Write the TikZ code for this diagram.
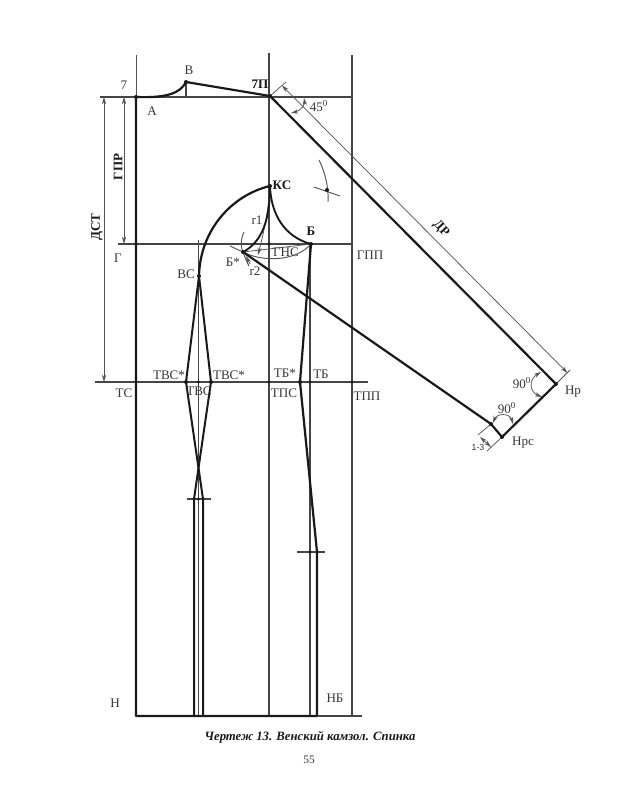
\documentclass[tikz,border=0pt]{standalone}
\usepackage{fontspec}
\setmainfont{Liberation Serif}
\newfontfamily\sansf{Liberation Sans}
\usetikzlibrary{arrows.meta}
\definecolor{ink}{gray}{0.1}
\definecolor{lab}{gray}{0.22}
\definecolor{midg}{gray}{0.27}
\definecolor{thing}{gray}{0.33}
\tikzset{
  thick line/.style={draw=ink,line width=1.65pt,line cap=round,line join=round},
  mid line/.style={draw=midg,line width=0.8pt},
  thin line/.style={draw=thing,line width=0.55pt},
  dim/.style={thin line,{Stealth[length=5.5pt,width=3.2pt]}-{Stealth[length=5.5pt,width=3.2pt]}},
  dimend/.style={thin line,-{Stealth[length=5.5pt,width=3.2pt]}},
  lbl/.style={font=\fontsize{9.8}{11}\selectfont,text=lab,inner sep=0pt},
  blbl/.style={font=\fontsize{9.8}{11}\selectfont\bfseries,text=ink,inner sep=0pt},
  dot/.style={circle,fill=ink,inner sep=0pt,minimum size=3pt},
}
\begin{document}
\begin{tikzpicture}[x=0.75pt,y=-0.75pt]
\useasboundingbox[fill=white] (0,0) rectangle (618,800);
% key points
\coordinate (A) at (136,97);
\coordinate (Atop) at (136,55);
\coordinate (H) at (136,716);
\coordinate (V) at (186,82);
\coordinate (Vb) at (186,97);
\coordinate (P) at (270,96);
\coordinate (KS) at (270,186);
\coordinate (B) at (311,244);
\coordinate (Bs) at (243,252);
\coordinate (VS) at (199,276);
\coordinate (Hr) at (556,384);
\coordinate (Hrs) at (502,437);
\coordinate (Hl) at (491,424);
\coordinate (TL) at (186,382);
\coordinate (TR) at (211,382);
\coordinate (DL) at (194,499);
\coordinate (DR) at (203,499);
\coordinate (TBs) at (300,382);
\coordinate (SB) at (317,552);
\coordinate (NB) at (317,716);
% construction lines
\draw[mid line] (100,97) -- (352,97);
\draw[mid line] (118,244) -- (352,244);
\draw[mid line] (95,382) -- (368,382);
\draw[mid line] (269,53) -- (269,716);
\draw[mid line] (352,55) -- (352,716);
\draw[thin line] (Atop) -- (A);
\draw[mid line] (198.5,240) -- (198.5,716);
\draw[mid line] (310,244) -- (310,716);
\draw[mid line] (V) -- (Vb);
\draw[mid line] (187,499) -- (211,499);
\draw[mid line] (297,552) -- (325,552);
\draw[mid line] (318,716) -- (362,716);
% dimensions
\draw[dim] (104,97) -- (104,382);
\draw[dim] (124,97) -- (124,244);
\draw[thin line] (P) -- (286,82);
\draw[thin line] (Hr) -- (570,370);
\draw[dim] (282,85.5) -- (567.5,373);
\draw[dim] (304,98) .. controls (305,105) and (300,111) .. (291,113);
\draw[dim] (541,372) .. controls (528,380) and (530,392) .. (542,397);
\draw[dim] (493,423) .. controls (497,413) and (510,413) .. (513,424);
\draw[thin line] (Hl) -- (478,435);
\draw[thin line] (Hrs) -- (487,451);
\draw[dim] (480,437) -- (491,447);
% marks near the sleeve
\draw[thin line,line width=0.7pt] (319,160) .. controls (325,172) and (329,188) .. (328,202);
\draw[thin line,line width=0.7pt] (314,187) -- (340,196);
\node[dot] (mk) at (327,190) {};
% thin arcs near B*
\draw[thin line,line width=0.7pt] (244,232) .. controls (240,240) and (241,248) .. (243,252) .. controls (245,258) and (247,262) .. (249,266);
\draw[thin line,line width=0.7pt] (230,246) -- (Bs);
\draw[thin line,line width=0.7pt] (Bs) .. controls (262,262) and (295,262) .. (B);
\draw[thin line] (Bs) -- (B);
\draw[dimend] (KS) .. controls (268,215) and (263,235) .. (258,255);
\draw[dimend] (250,264) -- (246,256);
% outline
\draw[thick line] (A) -- (H) -- (NB) -- (SB) -- (TBs) -- (B);
\draw[thick line] (A) .. controls (165,98) and (180,94) .. (V) -- (P) -- (Hr) -- (Hrs) -- (Hl) -- (Bs);
\draw[thick line] (KS) .. controls (232,195) and (200,230) .. (VS);
\draw[thick line,line width=1.4pt] (KS) .. controls (271,215) and (285,237) .. (B);
\draw[thick line,line width=1.4pt] (KS) .. controls (270,220) and (262,242) .. (Bs);
\draw[thick line,line width=1.5pt] (VS) -- (TL) -- (DR) -- (203,716);
\draw[thick line,line width=1.5pt] (VS) -- (TR) -- (DL) -- (194,716);
% dots
\foreach \n/\p in {d1/A,d2/V,d3/P,d4/KS,d5/B,d6/Bs,d7/VS,d8/TL,d9/TR,d10/TBs,d11/Hr,d12/Hrs,d13/Hl}{\node[dot] (\n) at (\p) {};}
\foreach \n/\x/\y in {e1/136/244,e2/269/244,e3/198.5/382,e4/269/382,e5/310/382,e6/352/382,e7/194/499,e8/198.5/499,e9/203/499,e10/310/552,e11/317/552}{\node[dot,minimum size=2.4pt] (\n) at (\x,\y) {};}
% labels
\node[lbl] (l7) at (124,85) {7};
\node[lbl] (lA) at (152,111) {А};
\node[lbl] (lV) at (189,70) {В};
\node[blbl] (lP) at (260,84) {7П};
\node[blbl] (lKS) at (282,185) {КС};
\node[blbl] (lB) at (311,231) {Б};
\node[lbl] (lG) at (118,258) {Г};
\node[lbl] (lVS) at (186,274) {ВС};
\node[lbl] (lBs) at (233,262) {Б*};
\node[lbl] (lr1) at (257,220) {r1};
\node[lbl] (lr2) at (255,271) {r2};
\node[lbl] (lGNS) at (286,252) {ГНС};
\node[lbl] (lGPP) at (370,255) {ГПП};
\node[lbl] (l45) at (319,106) {45\textsuperscript{0}};
\node[blbl,rotate=-47] (lDR) at (441,229) {ДР};
\node[blbl,rotate=90] (lGPR) at (118,167) {ГПР};
\node[blbl,rotate=90] (lDST) at (97,227) {ДСТ};
\node[lbl] (lTS) at (124,393) {ТС};
\node[lbl] (lTVl) at (169,375) {ТВС*};
\node[lbl] (lTVr) at (229,375) {ТВС*};
\node[lbl] (lTV) at (199,391) {ТВС};
\node[lbl] (lTPS) at (284,393) {ТПС};
\node[lbl] (lTBs) at (285,373) {ТБ*};
\node[lbl] (lTB) at (321,374) {ТБ};
\node[lbl] (lTPP) at (367,396) {ТПП};
\node[lbl] (lHr) at (573,392) {Нр};
\node[lbl] (lHrs) at (523,443) {Нрс};
\node[lbl] (l90a) at (522,383) {90\textsuperscript{0}};
\node[lbl] (l90b) at (507,408) {90\textsuperscript{0}};
\node[font=\sansf\fontsize{6.6}{8}\selectfont,text=lab,inner sep=0pt] (l13) at (478,447) {1-3};
\node[lbl] (lH) at (115,703) {Н};
\node[lbl] (lNB) at (335,698) {НБ};
\node[font=\fontsize{9.55}{12}\selectfont\bfseries\itshape,text=ink,inner sep=0pt] (cap) at (310,737) {Чертеж 13. Венский камзол. Спинка};
\node[font=\fontsize{8.6}{10}\selectfont,text=lab,inner sep=0pt] (pg) at (309,760) {55};
\end{tikzpicture}
\end{document}
